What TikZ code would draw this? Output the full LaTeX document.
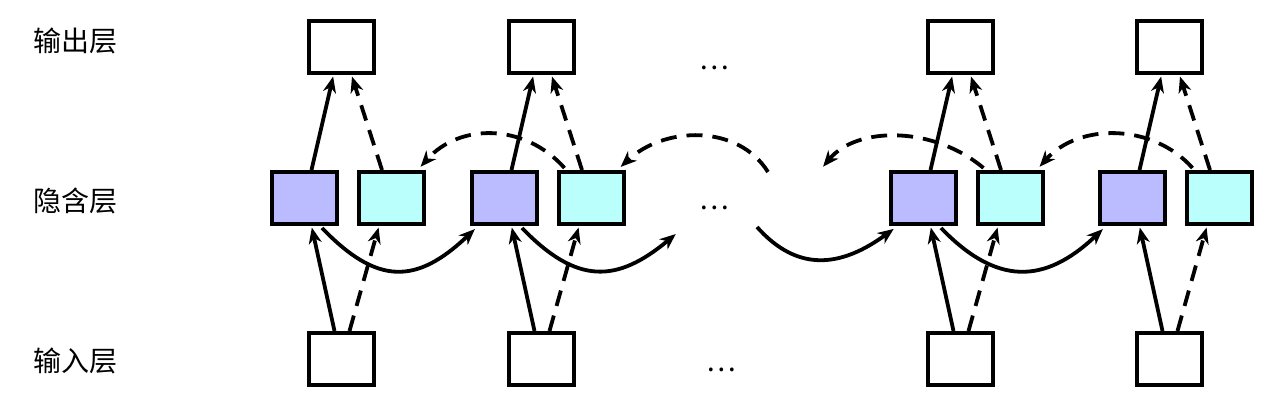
\documentclass[tikz,border=0pt]{standalone}
\usepackage{fontspec}
\newfontfamily\cjk{Noto Sans CJK SC}
\usetikzlibrary{arrows.meta}

\definecolor{hidA}{RGB}{187,187,255}
\definecolor{hidB}{RGB}{187,255,253}

\tikzset{
  unit/.style={draw, line width=2pt, minimum width=32.5pt, minimum height=26pt, inner sep=0pt, fill=white},
  hida/.style={unit, fill=hidA},
  hidb/.style={unit, fill=hidB},
  layer/.style={font=\cjk\fontsize{14}{16}\selectfont, inner sep=0pt},
  link/.style={line width=1.9pt, shorten >=0.8pt, -{Stealth[length=8pt,width=6.5pt,inset=2.5pt]}},
  back/.style={link, dash pattern=on 8pt off 5pt},
}

\begin{document}
\begin{tikzpicture}[x=0.5pt, y=-0.5pt]
  \useasboundingbox (0,0) rectangle (1281,410);

  % layer names
  \node[layer] (lout) at (75,41) {输出层};
  \node[layer] (lhid) at (75,201) {隐含层};
  \node[layer] (lin) at (75,361) {输入层};

  % time steps
  \foreach \i/\x in {1/341.5, 2/541.5, 3/960.5, 4/1169.5} {
    \node[unit] (out\i) at (\x,47) {};
    \node[unit] (in\i) at (\x,359) {};
    \node[hida] (p\i) at (\x-37,198) {};
    \node[hidb] (c\i) at (\x+49.5,198) {};
  }

  % skipped steps
  \node[layer] (dout) at (714,68) {…};
  \node[layer] (dhid) at (714,208) {…};
  \node[layer] (din) at (721,370) {…};
  \coordinate (gapin) at (677,233);
  \coordinate (gapout) at (757,227);
  \coordinate (gapbackin) at (822,168);
  \coordinate (gapbackout) at (768,172);

  % input -> hidden -> output
  \foreach \i in {1,...,4} {
    \draw[link] ([shift={(7,0)}]p\i.north) -- ([shift={(-8,0)}]out\i.south);
    \draw[back] ([shift={(-9,0)}]c\i.north) -- ([shift={(10,0)}]out\i.south);
    \draw[link] ([shift={(-7,0)}]in\i.north) -- ([shift={(7,0)}]p\i.south);
    \draw[back] ([shift={(8,0)}]in\i.north) -- ([shift={(-12,0)}]c\i.south);
  }

  % forward recurrence
  \foreach \i/\j in {1/2, 3/4}
    \draw[link] ([shift={(17.5,2)}]p\i.south) .. controls +(55,57) and +(-60,57) .. ([shift={(6,2)}]p\j.south west);
  \draw[link] ([shift={(17.5,2)}]p2.south) .. controls +(55,57) and +(-60,50) .. (gapin);
  \draw[link] (gapout) .. controls +(40,45) and +(-55,40) .. ([shift={(6,2)}]p3.south west);

  % backward recurrence
  \foreach \i/\j in {2/1, 4/3}
    \draw[back] ([shift={(8,-2)}]c\i.north west) .. controls +(-40,-45) and +(40,-45) .. ([shift={(-6,-2)}]c\j.north east);
  \draw[back] (gapbackout) .. controls +(-30,-48) and +(45,-42) .. ([shift={(-6,-2)}]c2.north east);
  \draw[back] ([shift={(8,-2)}]c3.north west) .. controls +(-50,-42) and +(35,-42) .. (gapbackin);
\end{tikzpicture}
\end{document}
